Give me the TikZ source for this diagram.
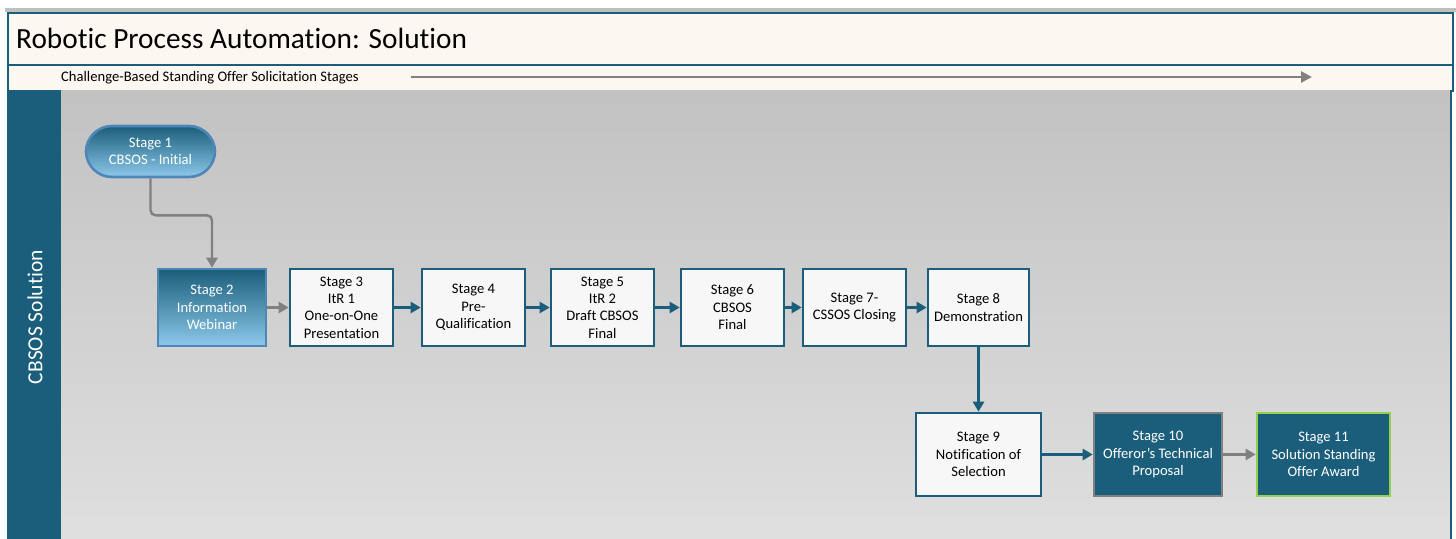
\documentclass[tikz,border=0pt]{standalone}
\usepackage{fontspec}
\setmainfont{Carlito}[Ligatures=NoCommon]
\usetikzlibrary{arrows.meta,positioning}
\definecolor{teal1}{HTML}{1B5E7B}
\definecolor{cream}{HTML}{FDF7F1}
\definecolor{boxw}{HTML}{F7F7F7}
\definecolor{gline}{HTML}{808080}
\definecolor{lblue}{HTML}{8CC8EA}
\definecolor{mblue}{HTML}{4F86B8}
\definecolor{lgreen}{HTML}{92D050}
\tikzset{
  stagetxt/.style={font=\fontsize{14.6}{17.4}\selectfont, align=center, inner sep=0pt},
  whitebox/.style={draw=teal1, line width=2.6pt, fill=boxw, stagetxt, text=black},
  darkbox/.style={fill=teal1, line width=2.6pt, stagetxt, text=white},
  gradbox/.style={draw=mblue, line width=2.6pt, top color=teal1, middle color=teal1, bottom color=lblue, stagetxt, text=white},
  tarrow/.style={draw=teal1, line width=2.4pt, -{Triangle[length=10pt,width=11pt]}},
  garrow/.style={draw=gline, line width=2.4pt, -{Triangle[length=10pt,width=11pt]}},
}
\begin{document}
\begin{tikzpicture}[x=1pt,y=-1pt]
\useasboundingbox (0,0) rectangle (1456,538);
\fill[white] (0,0) rectangle (1456,538);
% top gray strip
\fill[gray!50] (5,8) rectangle (1456,12);
% title box
\node[draw=teal1, line width=2.4pt, fill=cream, minimum width=1445pt, minimum height=52pt, anchor=north west, inner sep=0pt] (title) at (7,12) {};
\node[anchor=west, font=\fontsize{29.3}{32}\selectfont, inner sep=0pt] (titletxt) at (16,38) {Robotic Process Automation: Solution};
% subtitle band
\node[draw=teal1, line width=2.4pt, fill=cream, minimum width=1445pt, minimum height=26pt, anchor=north west, inner sep=0pt] (sub) at (7,64) {};
\node[anchor=west, font=\fontsize{14.6}{16}\selectfont, inner sep=0pt] (subtxt) at (61,78) {Challenge-Based Standing Offer Solicitation Stages};
\coordinate (a0) at (411,77);
\coordinate (a1) at (1312,77);
\draw[draw=gline, line width=2.6pt, -{Triangle[length=11pt,width=11pt]}] (a0) -- (a1);
% main area
\shade[top color=gray!48, bottom color=gray!25] (61,90) rectangle (1450,540);
\draw[teal1, line width=2.4pt] (1451,90) -- (1451,540);
% left band
\fill[teal1] (7,90) rectangle (61,540);
\node[rotate=90, text=white, font=\fontsize{21.5}{24}\selectfont, inner sep=0pt] (lane) at (35,317) {CBSOS Solution};
% stage 1
\node[gradbox, rounded corners=26pt, minimum width=129pt, minimum height=51pt] (s1) at (150.5,151.5) {Stage 1\\CBSOS - Initial};
% stages
\node[gradbox, minimum width=108pt, minimum height=77pt] (s2) at (212,307.5) {Stage 2\\Information\\Webinar};
\node[whitebox, minimum width=103pt, minimum height=77pt] (s3) at (341.5,307.5) {Stage 3\\ItR 1\\One-on-One\\Presentation};
\node[whitebox, minimum width=103pt, minimum height=77pt] (s4) at (473.5,307.5) {Stage 4\\Pre-\\Qualification};
\node[whitebox, minimum width=103pt, minimum height=77pt] (s5) at (602.5,307.5) {Stage 5\\ItR 2\\Draft CBSOS\\Final};
\node[whitebox, minimum width=103pt, minimum height=77pt] (s6) at (732.5,307.5) {Stage 6\\CBSOS\\Final};
\node[whitebox, minimum width=103pt, minimum height=77pt] (s7) at (854.5,307.5) {Stage 7-\\CSSOS Closing};
\node[whitebox, minimum width=101pt, minimum height=77pt] (s8) at (978.5,307.5) {Stage 8\\Demonstration};
\node[whitebox, minimum width=125pt, minimum height=83pt] (s9) at (978.5,454.5) {Stage 9\\Notification of\\Selection};
\node[darkbox, draw=gline, minimum width=128pt, minimum height=83pt] (s10) at (1158,454.5) {Stage 10\\Offeror’s Technical\\Proposal};
\node[darkbox, draw=lgreen, minimum width=133pt, minimum height=83pt] (s11) at (1323.5,454.5) {Stage 11\\Solution Standing\\Offer Award};
% connectors
\draw[garrow, rounded corners=5pt] (s1.south) -- ++(0,37) -| (s2.north);
\draw[garrow] (s2) -- (s3);
\draw[tarrow] (s3) -- (s4);
\draw[tarrow] (s4) -- (s5);
\draw[tarrow] (s5) -- (s6);
\draw[tarrow] (s6) -- (s7);
\draw[tarrow] (s7) -- (s8);
\draw[tarrow] (s8) -- (s9);
\draw[tarrow] (s9) -- (s10);
\draw[garrow] (s10) -- (s11);
\end{tikzpicture}
\end{document}
